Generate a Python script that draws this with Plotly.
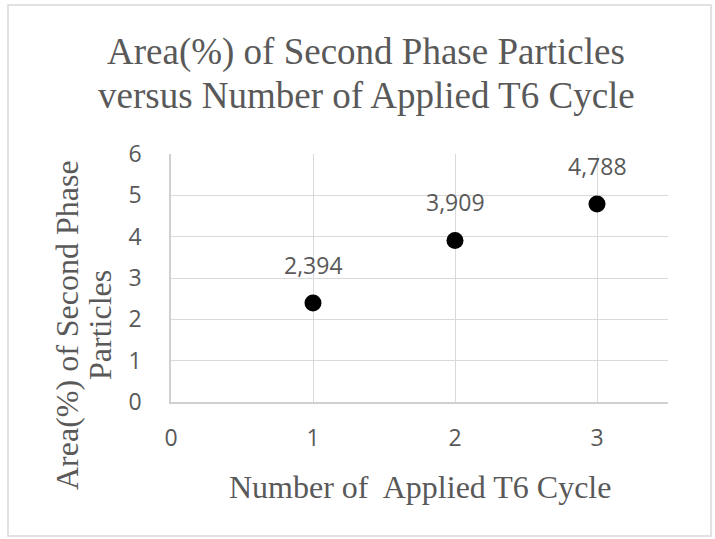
import plotly.graph_objects as go

cycles = [1, 2, 3]
area_pct = [2.394, 3.909, 4.788]
x_ticks = [0, 1, 2, 3]
y_ticks = [0, 1, 2, 3, 4, 5, 6]

title_lines = ["Area(%) of Second Phase Particles", "versus Number of Applied T6 Cycle"]
x_title = "Number of  Applied T6 Cycle"
y_title_lines = ["Area(%) of Second Phase", "Particles"]

W, H = 715, 539
L, R, T, B = 171, 668, 154, 402
pw, ph = R - L, B - T

def px(x):
    return (x - L) / pw

def py(y):
    return (B - y) / ph

serif = "Liberation Serif, Times New Roman, serif"
sans = "Open Sans, Liberation Sans, sans-serif"
grey = "#595959"

fig = go.Figure()
fig.add_trace(go.Scatter(
    x=cycles, y=area_pct, mode="markers",
    marker=dict(color="black", size=17),
    showlegend=False, hoverinfo="skip",
))

annotations = []
for xv, yv in zip(cycles, area_pct):
    annotations.append(dict(
        x=xv, y=yv, xref="x", yref="y",
        text=f"{yv:.3f}".replace(".", ","),
        showarrow=False, yshift=38,
        font=dict(family=sans, size=23, color=grey),
    ))

for line, yc in zip(title_lines, [52, 95]):
    annotations.append(dict(
        x=px(366), y=py(yc), xref="paper", yref="paper", text=line,
        showarrow=False, font=dict(family=serif, size=37, color=grey),
        xanchor="center", yanchor="middle"))

annotations.append(dict(
    x=px(420), y=py(487), xref="paper", yref="paper", text=x_title,
    showarrow=False, font=dict(family=serif, size=32, color=grey),
    xanchor="center", yanchor="middle"))

for line, xc in zip(y_title_lines, [67, 100]):
    annotations.append(dict(
        x=px(xc), y=py(325), xref="paper", yref="paper", text=line,
        showarrow=False, textangle=-90,
        font=dict(family=serif, size=32, color=grey),
        xanchor="center", yanchor="middle"))

fig.update_layout(
    width=W, height=H,
    margin=dict(l=L, r=W - R, t=T, b=H - B, pad=0),
    paper_bgcolor="white", plot_bgcolor="white",
    annotations=annotations,
    shapes=[dict(type="rect", xref="paper", yref="paper",
                 x0=px(8), x1=px(711), y0=py(536), y1=py(5),
                 line=dict(color="#d9d9d9", width=1.5), layer="below")],
    xaxis=dict(range=[0, 3.5], tickvals=x_ticks, showgrid=True,
               gridcolor="#d9d9d9", gridwidth=1, zeroline=False,
               showline=True, linecolor="#d0d0d0", linewidth=1.5,
               ticks="", ticklabelstandoff=15,
               tickfont=dict(family=sans, size=23, color=grey)),
    yaxis=dict(range=[0, 6], tickvals=y_ticks, showgrid=True,
               gridcolor="#d9d9d9", gridwidth=1, zeroline=False,
               showline=True, linecolor="#d0d0d0", linewidth=1.5,
               ticks="", ticklabelstandoff=23,
               tickfont=dict(family=sans, size=23, color=grey)),
)

fig.write_html("out.html", config={"displayModeBar": False},
               post_script="document.body.style.margin='0';")
